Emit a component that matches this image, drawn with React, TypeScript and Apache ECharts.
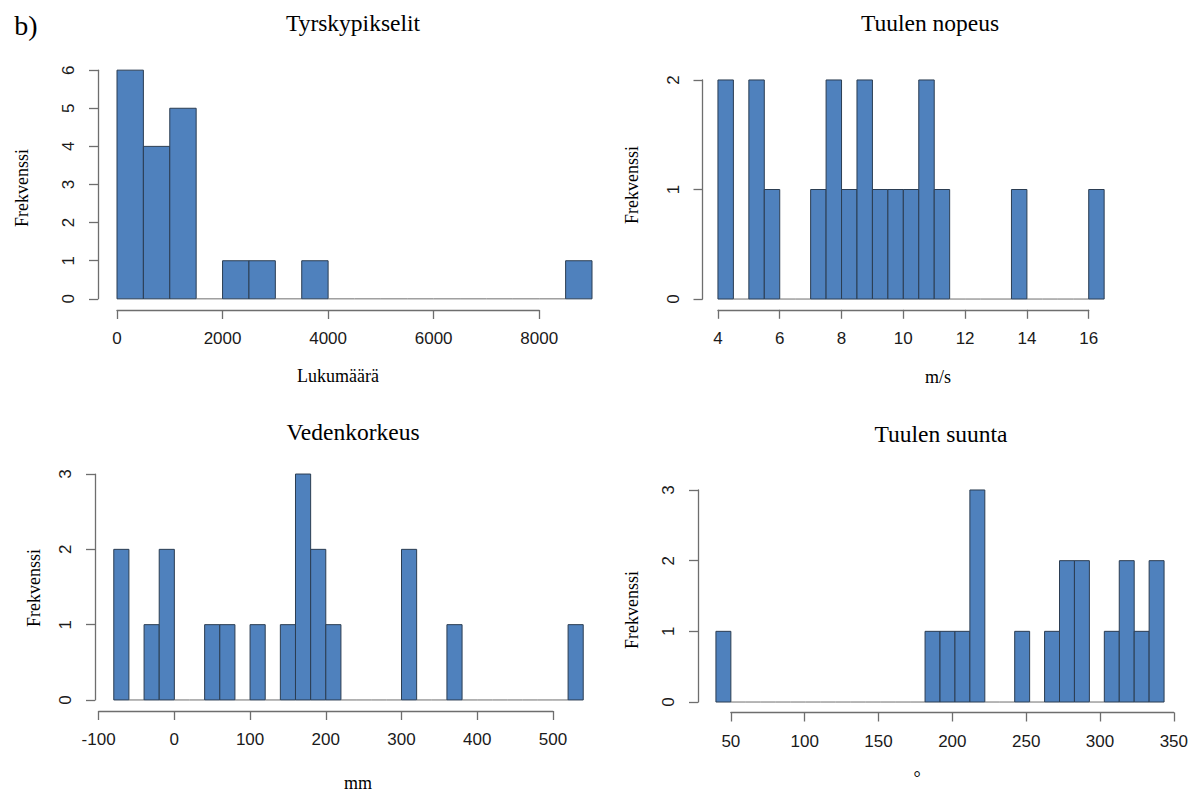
import React, { useEffect, useRef } from "react";
import * as echarts from "echarts";

// ---- Data (histogram bin counts) ----
const tyrskyStart = 0;
const tyrskyWidth = 500;
const tyrskyCounts = [6, 4, 5, 0, 1, 1, 0, 1, 0, 0, 0, 0, 0, 0, 0, 0, 0, 1];
const tyrskyTicks = [0, 2000, 4000, 6000, 8000];

const nopeusStart = 4;
const nopeusWidth = 0.5;
const nopeusCounts = [2, 0, 2, 1, 0, 0, 1, 2, 1, 2, 1, 1, 1, 2, 1, 0, 0, 0, 0, 1, 0, 0, 0, 0, 1];
const nopeusTicks = [4, 6, 8, 10, 12, 14, 16];

const vedenStart = -80;
const vedenWidth = 20;
const vedenCounts = [2, 0, 1, 2, 0, 0, 1, 1, 0, 1, 0, 1, 3, 2, 1, 0, 0, 0, 0, 2, 0, 0, 1, 0, 0, 0, 0, 0, 0, 0, 1];
const vedenTicks = [-100, 0, 100, 200, 300, 400, 500];

const suuntaStart = 40;
const suuntaWidth = 10;
const suuntaCounts = [1, 0, 0, 0, 0, 0, 0, 0, 0, 0, 0, 0, 0, 0, 1, 1, 1, 3, 0, 0, 1, 0, 1, 2, 2, 0, 1, 2, 1, 2];
const suuntaTicks = [50, 100, 150, 200, 250, 300, 350];

const titles = ["Tyrskypikselit", "Tuulen nopeus", "Vedenkorkeus", "Tuulen suunta"];
const xNames = ["Lukumäärä", "m/s", "mm", "°"];
const yName = "Frekvenssi";

// ---- Layout (pixel boxes of the R plot regions) ----
const panels = [
  { start: tyrskyStart, width: tyrskyWidth, counts: tyrskyCounts, ticks: tyrskyTicks, yMax: 6,
    box: { L: 98, R: 611, T: 61, B: 308 }, titlePos: [353, 23], xNamePos: [338, 376], yNamePos: [22, 188] },
  { start: nopeusStart, width: nopeusWidth, counts: nopeusCounts, ticks: nopeusTicks, yMax: 2,
    box: { L: 702.5, R: 1119.6, T: 71.2, B: 307.8 }, titlePos: [930, 23], xNamePos: [938, 377], yNamePos: [632, 185] },
  { start: vedenStart, width: vedenWidth, counts: vedenCounts, ticks: vedenTicks, yMax: 3,
    box: { L: 95, R: 602, T: 465, B: 709 }, titlePos: [353, 432], xNamePos: [358, 783], yNamePos: [34, 588] },
  { start: suuntaStart, width: suuntaWidth, counts: suuntaCounts, ticks: suuntaTicks, yMax: 3,
    box: { L: 698, R: 1182, T: 481.5, B: 710.5 }, titlePos: [941, 434], xNamePos: [917, 778], yNamePos: [632, 610] },
];

const FILL = "#4F81BD";
const EDGE = "#2B3D52";
const AXIS = "#6E6E6E";
const LABEL_FONT = "'Liberation Sans', Arial, sans-serif";
const SERIF = "'Liberation Serif', 'Times New Roman', serif";

function buildOption() {
  const grid: any[] = [];
  const xAxis: any[] = [];
  const yAxis: any[] = [];
  const series: any[] = [];
  const graphic: any[] = [];

  panels.forEach((p, i) => {
    const n = p.counts.length;
    const dMin = p.start;
    const dMax = p.start + n * p.width;
    const pad = 0.04 * (dMax - dMin);
    const xmin = dMin - pad;
    const xmax = dMax + pad;
    const ymin = -0.04 * p.yMax;
    const ymax = p.yMax * 1.04;
    const { L, R, T, B } = p.box;
    const W = R - L;
    const H = B - T;

    // plot grid
    const gPlot = grid.length;
    grid.push({ left: L, top: T, width: W, height: H, containLabel: false });
    xAxis.push({ gridIndex: gPlot, type: "value", min: xmin, max: xmax, show: false });
    yAxis.push({ gridIndex: gPlot, type: "value", min: ymin, max: ymax, show: false });

    const data = p.counts.map((c, k) => [p.start + k * p.width, p.start + (k + 1) * p.width, c]);
    series.push({
      type: "custom",
      xAxisIndex: xAxis.length - 1,
      yAxisIndex: yAxis.length - 1,
      encode: { x: [0, 1], y: 2 },
      data,
      renderItem: (params: any, api: any) => {
        const x0 = api.value(0);
        const x1 = api.value(1);
        const c = api.value(2);
        const p0 = api.coord([x0, c]);
        const p1 = api.coord([x1, 0]);
        if (c > 0) {
          return {
            type: "rect",
            shape: { x: p0[0], y: p0[1], width: p1[0] - p0[0], height: p1[1] - p0[1] },
            style: { fill: FILL, stroke: EDGE, lineWidth: 1 },
          };
        }
        return {
          type: "line",
          shape: { x1: p0[0], y1: p1[1], x2: p1[0], y2: p1[1] },
          style: { stroke: AXIS, lineWidth: 1 },
        };
      },
    });

    // x axis grid (spans first to last tick, below plot region)
    const t0 = p.ticks[0];
    const tN = p.ticks[p.ticks.length - 1];
    const step = p.ticks[1] - p.ticks[0];
    const gx = grid.length;
    grid.push({
      left: L + ((t0 - xmin) / (xmax - xmin)) * W,
      width: ((tN - t0) / (xmax - xmin)) * W,
      top: B + 1,
      height: 1,
    });
    xAxis.push({
      gridIndex: gx, type: "value", min: t0, max: tN, interval: step, position: "bottom",
      axisLine: { show: true, lineStyle: { color: AXIS, width: 1.3 } },
      axisTick: { show: true, length: 9, lineStyle: { color: AXIS, width: 1.3 } },
      axisLabel: { show: true, color: "#1a1a1a", fontSize: 17, fontFamily: LABEL_FONT, margin: 20,
        showMinLabel: true, showMaxLabel: true, formatter: (v: number) => String(v) },
      splitLine: { show: false },
    });
    yAxis.push({ gridIndex: gx, type: "value", show: false });

    // y axis grid (spans 0..max at plot left edge)
    const yPix = (v: number) => B - ((v - ymin) / (ymax - ymin)) * H;
    const gy = grid.length;
    grid.push({ left: L, width: 1, top: yPix(p.yMax), height: yPix(0) - yPix(p.yMax) });
    xAxis.push({ gridIndex: gy, type: "value", show: false });
    yAxis.push({
      gridIndex: gy, type: "value", min: 0, max: p.yMax, interval: 1, position: "left",
      axisLine: { show: true, lineStyle: { color: AXIS, width: 1.3 } },
      axisTick: { show: true, length: 9, lineStyle: { color: AXIS, width: 1.3 } },
      axisLabel: { show: true, color: "#1a1a1a", fontSize: 17, fontFamily: LABEL_FONT, margin: 21, rotate: 90,
        formatter: (v: number) => String(v) },
      splitLine: { show: false },
    });

    graphic.push({
      type: "text", x: p.titlePos[0], y: p.titlePos[1],
      style: { text: titles[i], fill: "#000", font: `23.5px ${SERIF}`, align: "center", verticalAlign: "middle" },
    });
    graphic.push({
      type: "text", x: p.xNamePos[0], y: p.xNamePos[1],
      style: { text: xNames[i], fill: "#000", font: `18px ${SERIF}`, align: "center", verticalAlign: "middle" },
    });
    graphic.push({
      type: "text", x: p.yNamePos[0], y: p.yNamePos[1], rotation: Math.PI / 2,
      style: { text: yName, fill: "#000", font: `18px ${SERIF}`, align: "center", verticalAlign: "middle" },
    });
  });

  graphic.push({
    type: "text", x: 26, y: 25,
    style: { text: "b)", fill: "#000", font: `28px ${SERIF}`, align: "center", verticalAlign: "middle" },
  });

  return {
    animation: false,
    backgroundColor: "#ffffff",
    grid, xAxis, yAxis, series, graphic,
  };
}

export default function App() {
  const ref = useRef<HTMLDivElement>(null);
  useEffect(() => {
    if (!ref.current) return;
    const chart = echarts.init(ref.current, null, { renderer: "svg" });
    chart.setOption(buildOption() as any);
    return () => chart.dispose();
  }, []);
  return (
    <div
      ref={ref}
      style={{ position: "fixed", left: 0, top: 0, width: 1191, height: 794, background: "#fff" }}
    />
  );
}
